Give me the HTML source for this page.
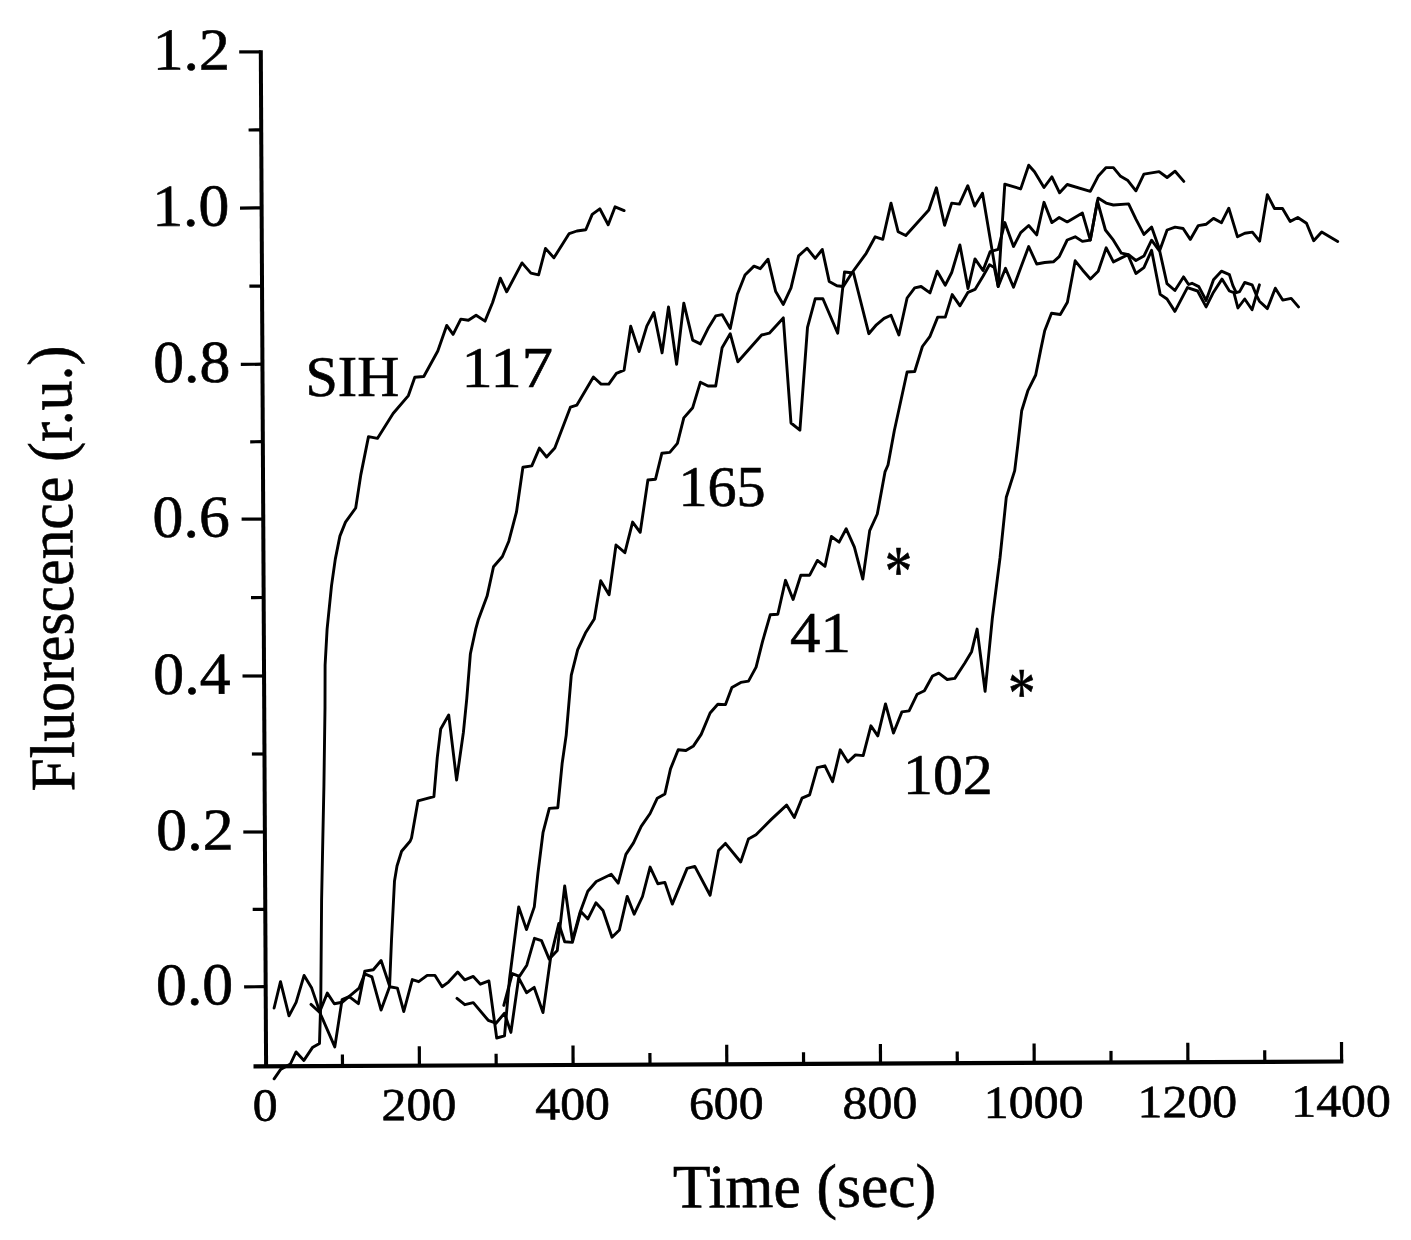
<!DOCTYPE html>
<html lang="en">
<head>
<meta charset="utf-8">
<title>Fluorescence vs Time</title>
<style>
html,body{margin:0;padding:0;background:#fff;}
body{width:1411px;height:1240px;overflow:hidden;}
svg{display:block;}
svg text{font-family:"Liberation Serif","Times New Roman",serif;fill:#000;}
</style>
</head>
<body>
<svg width="1411" height="1240" viewBox="0 0 1411 1240">
<rect width="1411" height="1240" fill="#fff"/>
<g stroke="#000" fill="none" stroke-linecap="butt">
<line x1="260.8" y1="50.3" x2="266.1" y2="1068" stroke-width="4"/>
<line x1="253.5" y1="1066.4" x2="1343.3" y2="1061.5" stroke-width="4.2"/>
<line x1="239.2" y1="51.9" x2="260.8" y2="51.9" stroke-width="3.2"/>
<line x1="248.6" y1="130.0" x2="261.2" y2="129.9" stroke-width="3.2"/>
<line x1="240.0" y1="208.1" x2="261.6" y2="207.9" stroke-width="3.2"/>
<line x1="249.4" y1="286.2" x2="262.0" y2="286.1" stroke-width="3.2"/>
<line x1="240.8" y1="364.4" x2="262.4" y2="364.2" stroke-width="3.2"/>
<line x1="250.2" y1="441.8" x2="262.8" y2="441.7" stroke-width="3.2"/>
<line x1="241.6" y1="519.1" x2="263.2" y2="519.1" stroke-width="3.2"/>
<line x1="251.0" y1="597.6" x2="263.6" y2="597.5" stroke-width="3.2"/>
<line x1="242.5" y1="676.0" x2="264.1" y2="676.0" stroke-width="3.2"/>
<line x1="251.9" y1="754.0" x2="264.5" y2="754.0" stroke-width="3.2"/>
<line x1="243.3" y1="832.0" x2="264.9" y2="832.0" stroke-width="3.2"/>
<line x1="252.7" y1="909.4" x2="265.3" y2="909.3" stroke-width="3.2"/>
<line x1="244.1" y1="986.8" x2="265.7" y2="986.7" stroke-width="3.2"/>
<line x1="342.4" y1="1054.4" x2="342.5" y2="1066.0" stroke-width="3.2"/>
<line x1="419.3" y1="1046.2" x2="419.4" y2="1065.7" stroke-width="3.2"/>
<line x1="496.1" y1="1053.7" x2="496.2" y2="1065.3" stroke-width="3.2"/>
<line x1="573.0" y1="1045.5" x2="573.1" y2="1065.0" stroke-width="3.2"/>
<line x1="649.9" y1="1053.0" x2="650.0" y2="1064.6" stroke-width="3.2"/>
<line x1="726.7" y1="1044.8" x2="726.8" y2="1064.3" stroke-width="3.2"/>
<line x1="803.5" y1="1052.3" x2="803.6" y2="1063.9" stroke-width="3.2"/>
<line x1="880.4" y1="1044.1" x2="880.5" y2="1063.6" stroke-width="3.2"/>
<line x1="957.2" y1="1051.6" x2="957.3" y2="1063.2" stroke-width="3.2"/>
<line x1="1034.1" y1="1043.4" x2="1034.2" y2="1062.9" stroke-width="3.2"/>
<line x1="1111.0" y1="1050.9" x2="1111.0" y2="1062.5" stroke-width="3.2"/>
<line x1="1187.8" y1="1042.7" x2="1187.9" y2="1062.2" stroke-width="3.2"/>
<line x1="1264.7" y1="1050.2" x2="1264.8" y2="1061.8" stroke-width="3.2"/>
<line x1="1341.5" y1="1042.0" x2="1341.6" y2="1061.5" stroke-width="3.2"/>
</g>
<g stroke="#000" fill="none" stroke-width="2.9" stroke-linejoin="round" stroke-linecap="round">
<polyline points="274.1,1078.8 280.5,1069.6 290.4,1064.0 296.1,1051.9 303.9,1060.4 312.4,1047.6 319.5,1043.4 320.8,1000.0 321.6,900.0 322.8,840.0 323.9,786.8 325.0,707.4 325.1,665.0 327.1,629.2 331.5,585.9 335.3,559.1 339.9,536.1 345.5,522.1 355.7,508.0 360.8,474.9 368.5,436.6 377.4,438.4 393.1,413.5 408.4,395.6 414.8,377.2 423.8,376.5 437.8,351.0 446.7,325.4 453.1,334.4 460.8,319.1 468.4,320.3 476.1,315.2 485.0,321.1 492.6,302.5 500.3,278.2 506.7,291.8 522.0,262.9 530.9,273.1 538.6,274.9 545.5,248.4 553.9,257.8 569.2,233.6 576.9,231.0 585.8,229.8 592.2,214.4 599.8,208.8 608.2,224.7 615.1,206.8 624.1,210.6"/>
<polyline points="274.1,1008.0 280.5,981.7 289.0,1015.8 296.1,1002.3 304.1,975.4 311.7,988.1 320.9,1015.0 334.8,1046.9 342.1,999.5 349.2,996.6 358.4,1003.7 364.8,971.1 373.3,969.7 381.1,960.5 389.6,986.0 391.5,940.0 394.5,881.0 397.0,866.0 401.6,851.3 410.1,841.3 411.5,838.0 418.0,800.9 433.9,796.6 437.3,757.3 440.7,729.0 448.7,714.9 456.6,780.0 463.4,732.4 466.8,698.4 470.4,653.7 475.7,629.2 478.2,620.1 487.1,596.1 493.5,566.7 502.4,556.5 508.8,541.2 516.5,511.9 522.9,467.2 531.8,465.9 539.4,448.1 546.6,457.0 554.8,448.1 570.5,407.1 576.9,405.1 593.4,377.0 601.1,384.1 608.8,384.1 616.4,373.4 624.1,370.1 630.7,326.1 639.1,351.6 646.8,326.1 653.9,312.5 662.1,352.9 668.5,306.9 676.6,364.3 683.8,303.1 692.7,340.1 700.4,343.9 708.0,328.6 715.7,315.9 722.1,314.6 730.2,328.6 737.4,294.2 745.0,275.0 754.0,266.1 760.3,268.7 768.0,259.2 775.7,291.6 783.3,304.4 791.0,287.8 798.6,255.9 807.0,248.2 815.2,258.4 822.3,249.5 829.2,281.4 836.9,285.7 843.3,286.5 852.2,272.5 866.2,253.3 875.2,236.8 882.8,239.3 891.0,203.1 898.1,231.7 905.8,235.5 928.8,210.0 936.4,187.8 944.6,225.3 951.7,203.1 959.4,204.1 967.8,185.7 974.7,206.1 982.5,193.3 990.2,239.0 998.2,286.5 1004.8,184.1 1020.7,188.9 1028.7,165.2 1034.5,171.8 1044.0,187.5 1051.9,176.9 1059.6,192.8 1067.2,184.5 1090.3,191.4 1098.1,176.3 1106.1,167.6 1113.4,167.6 1120.6,176.3 1127.9,180.6 1135.9,190.8 1143.9,174.1 1159.1,171.6 1167.1,177.5 1175.1,171.2 1183.8,181.4"/>
<polyline points="311.0,1004.4 319.5,1012.2 327.3,993.1 334.3,1003.7 342.1,1002.3 359.1,988.1 364.8,973.9 371.9,976.8 381.1,1010.1 389.6,986.7 397.4,988.1 403.8,1011.5 412.3,979.6 418.7,981.7 427.2,975.4 435.0,975.4 442.1,986.7 448.5,982.1 457.7,972.1 464.8,979.9 473.3,976.4 480.4,984.2 488.9,980.9 496.7,1038.0 504.5,1035.9 509.5,979.2 518.7,906.9 526.5,929.6 534.3,906.9 537.9,873.5 543.0,832.7 549.3,808.4 557.8,807.7 562.1,763.8 566.2,735.1 571.3,675.2 577.7,649.7 585.4,633.1 594.3,619.0 600.7,580.8 609.1,594.8 616.0,545.0 624.9,552.7 632.6,522.1 640.2,532.3 647.9,480.0 655.5,479.2 661.9,453.2 669.8,452.4 677.4,443.4 683.8,417.9 692.7,407.7 700.4,382.2 708.0,386.0 715.7,386.0 722.1,347.8 730.2,333.7 737.9,361.8 761.6,335.0 769.3,333.2 783.3,317.9 791.0,423.0 799.9,430.2 807.5,327.3 815.2,298.8 822.9,298.8 837.7,333.2 844.5,272.0 853.5,273.0 868.8,333.7 876.4,324.8 884.1,318.4 891.0,315.3 898.9,335.0 907.1,298.0 914.7,287.8 921.1,286.5 930.0,292.9 937.2,271.2 945.3,285.2 951.7,272.5 959.9,244.9 968.0,288.5 975.0,258.9 983.0,270.5 990.2,251.6 998.2,249.4 1004.8,222.6 1013.5,246.5 1020.7,232.7 1028.7,225.5 1036.7,234.9 1044.0,202.3 1051.9,222.6 1059.2,217.5 1067.2,221.9 1082.4,213.1 1090.3,240.1 1098.1,198.1 1106.1,203.1 1113.4,205.0 1128.6,203.9 1135.9,219.1 1143.9,234.4 1151.6,227.1 1159.8,250.3 1167.1,230.0 1175.1,227.1 1183.1,228.5 1190.3,239.4 1198.3,225.6 1206.3,224.2 1213.5,218.4 1221.5,222.7 1228.8,208.2 1237.5,236.8 1244.8,233.2 1252.4,232.1 1259.6,241.2 1267.3,194.7 1274.5,208.5 1282.5,208.5 1290.2,221.4 1297.8,217.5 1306.5,223.3 1313.7,240.7 1321.7,232.0 1337.7,241.4"/>
<polyline points="503.8,1005.4 512.3,973.6 519.4,976.4 526.8,965.2 534.5,938.3 541.5,940.6 549.2,959.1 557.3,950.4 564.7,886.0 572.4,940.3 580.1,912.2 587.8,891.3 596.3,881.5 611.3,874.3 618.2,883.2 625.9,854.4 633.5,842.9 641.2,826.3 650.1,813.5 657.3,798.2 664.9,793.9 670.5,768.9 678.2,749.8 685.9,750.5 693.5,745.9 701.2,734.4 710.1,713.0 717.8,704.3 725.5,704.6 731.9,687.5 740.8,682.4 748.5,681.1 756.1,667.1 762.5,641.6 770.2,614.8 777.8,614.3 785.5,580.3 793.1,599.5 800.8,575.2 809.7,575.2 817.4,560.4 825.0,566.3 831.4,536.5 839.1,542.1 846.2,528.8 854.4,547.2 862.8,579.1 869.7,530.6 877.3,514.0 885.0,471.9 888.0,465.0 894.3,430.7 907.1,372.0 914.7,371.5 922.4,346.5 930.0,336.3 937.7,317.1 945.3,317.1 952.2,294.6 960.0,305.8 968.0,292.3 975.0,289.4 983.0,276.3 989.5,264.7 994.3,267.5 998.2,286.5 1005.5,268.3 1013.5,287.2 1021.0,267.0 1028.7,246.5 1036.7,264.0 1044.7,262.5 1053.4,261.8 1059.2,256.7 1067.2,240.0 1075.2,236.8 1082.4,241.4 1090.3,240.1 1097.4,201.0 1105.4,230.0 1113.4,240.2 1121.4,253.2 1128.6,254.7 1135.9,260.5 1143.9,256.1 1151.6,240.2 1159.8,251.5 1167.0,283.7 1174.9,290.5 1183.5,276.9 1188.6,284.5 1192.0,283.3 1198.8,286.6 1206.1,300.5 1213.5,279.7 1221.4,271.2 1229.4,274.6 1232.8,285.4 1236.2,292.7 1239.6,291.6 1244.7,282.5 1252.1,284.8 1256.6,295.6 1259.4,301.2 1267.4,308.6 1275.3,288.2 1282.7,300.1 1291.2,298.4 1298.5,306.9"/>
<polyline points="457.0,998.4 464.8,1004.7 473.3,1002.6 488.2,1020.3 496.0,1023.2 504.5,1013.2 510.9,1032.4 518.7,977.8 526.5,992.7 534.2,987.4 543.0,1012.6 550.6,957.7 558.8,923.6 564.7,941.7 572.4,942.4 580.8,911.5 587.9,918.9 595.9,902.8 603.0,910.5 612.0,937.2 619.4,930.0 627.2,896.4 634.2,914.2 642.5,896.5 650.1,867.1 657.8,883.7 664.9,882.4 672.3,904.1 687.1,868.4 694.8,866.4 710.1,895.2 718.5,850.5 725.4,843.4 740.7,862.0 748.4,839.1 756.0,834.7 771.3,819.4 786.6,805.1 794.3,817.4 802.0,798.2 809.6,794.9 817.3,767.6 824.9,765.8 832.6,781.7 840.2,749.8 847.9,762.0 855.5,754.9 863.2,755.6 870.9,725.8 877.8,735.9 885.5,703.9 893.5,733.0 901.9,711.9 909.1,710.9 917.2,694.2 924.4,690.7 932.5,676.0 938.8,673.1 947.2,679.5 954.8,678.4 964.7,663.3 971.6,651.7 977.1,629.1 985.1,691.3 992.4,617.7 1000.0,558.0 1006.3,497.2 1014.7,470.6 1017.8,445.1 1021.7,410.7 1028.0,390.3 1035.7,375.0 1040.8,349.4 1044.7,330.8 1051.5,313.3 1060.3,314.5 1067.4,302.3 1075.2,260.8 1082.7,270.2 1090.4,279.0 1098.2,271.3 1106.2,247.8 1113.4,261.9 1127.9,254.7 1135.9,273.5 1143.9,267.7 1151.6,250.3 1160.2,294.4 1167.0,299.0 1174.9,311.4 1187.4,287.6 1197.6,291.0 1206.1,306.9 1213.5,292.2 1222.0,279.1 1229.4,291.0 1233.9,292.7 1237.9,308.0 1244.7,299.0 1252.1,309.7 1259.4,284.8"/>
</g>
<g stroke="#000" stroke-width="0.6">
<text transform="translate(230.0,69.5) rotate(-0.25) scale(1.04,1)" font-size="59.5" text-anchor="end">1.2</text>
<text transform="translate(229.5,225.6) rotate(-0.25) scale(1.04,1)" font-size="59.5" text-anchor="end">1.0</text>
<text transform="translate(230.5,381.9) rotate(-0.25) scale(1.04,1)" font-size="59.5" text-anchor="end">0.8</text>
<text transform="translate(229.9,536.7) rotate(-0.25) scale(1.04,1)" font-size="59.5" text-anchor="end">0.6</text>
<text transform="translate(230.7,693.6) rotate(-0.25) scale(1.04,1)" font-size="59.5" text-anchor="end">0.4</text>
<text transform="translate(233.7,849.6) rotate(-0.25) scale(1.04,1)" font-size="59.5" text-anchor="end">0.2</text>
<text transform="translate(233.3,1004.3) rotate(-0.25) scale(1.04,1)" font-size="59.5" text-anchor="end">0.0</text>
<text transform="translate(265.2,1120.6) rotate(-0.25) scale(1.085,1)" font-size="46" text-anchor="middle">0</text>
<text transform="translate(418.9,1120.0) rotate(-0.25) scale(1.085,1)" font-size="46" text-anchor="middle">200</text>
<text transform="translate(572.6,1119.4) rotate(-0.25) scale(1.085,1)" font-size="46" text-anchor="middle">400</text>
<text transform="translate(726.3,1118.8) rotate(-0.25) scale(1.085,1)" font-size="46" text-anchor="middle">600</text>
<text transform="translate(880.0,1118.3) rotate(-0.25) scale(1.085,1)" font-size="46" text-anchor="middle">800</text>
<text transform="translate(1033.7,1117.7) rotate(-0.25) scale(1.085,1)" font-size="46" text-anchor="middle">1000</text>
<text transform="translate(1187.4,1117.1) rotate(-0.25) scale(1.085,1)" font-size="46" text-anchor="middle">1200</text>
<text transform="translate(1341.1,1116.5) rotate(-0.25) scale(1.085,1)" font-size="46" text-anchor="middle">1400</text>
<text transform="translate(804.6,1207) rotate(-0.25)" font-size="61.7" text-anchor="middle">Time (sec)</text>
<text transform="translate(72.6,568.5) rotate(-90.4)" font-size="63" text-anchor="middle" textLength="445.5" lengthAdjust="spacingAndGlyphs">Fluorescence (r.u.)</text>
<text transform="translate(305.5,395.5) scale(1.030,1)" font-size="56.5">SIH</text>
<text transform="translate(461.6,386.7) scale(1.085,1)" font-size="57.5">117</text>
<text transform="translate(678.4,506.0) scale(1.020,1)" font-size="57.0">165</text>
<text transform="translate(790.0,652.0) scale(1.068,1)" font-size="57.0">41</text>
<text transform="translate(903.0,794.0) scale(1.050,1)" font-size="57.0">102</text>
<text transform="translate(898.5,561.9) scale(0.885,1.17)" x="0" y="28.2" font-size="62" text-anchor="middle">*</text>
<text transform="translate(1021.8,683.7) scale(0.885,1.17)" x="0" y="28.2" font-size="62" text-anchor="middle">*</text>
</g>
</svg>
</body>
</html>
